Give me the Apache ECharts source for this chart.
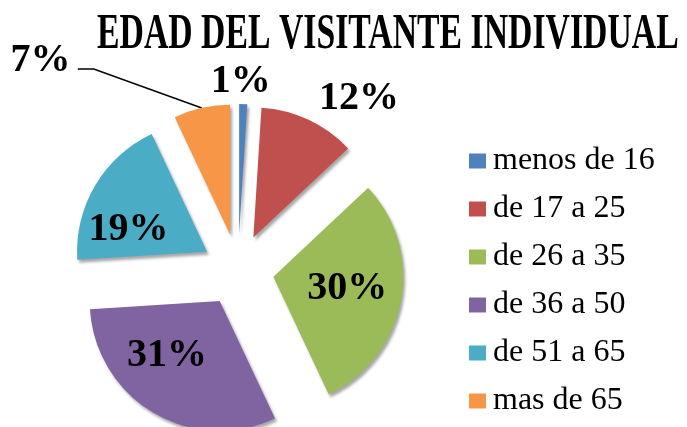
<!DOCTYPE html>
<html>
<head>
<meta charset="utf-8">
<script src="https://cdn.jsdelivr.net/npm/echarts@6/dist/echarts.min.js"></script>
<style>
  html, body { margin: 0; padding: 0; background: #fff; }
  #chart { width: 687px; height: 427px; }
</style>
</head>
<body>
<div id="chart"></div>
<script>
const categories = ['menos de 16', 'de 17 a 25', 'de 26 a 35', 'de 36 a 50', 'de 51 a 65', 'mas de 65'];
const values = [1, 12, 30, 31, 19, 7];
const colors = ['#4f81bd', '#c0504d', '#9bbb59', '#8064a2', '#4bacc6', '#f79646'];
const insideIdx = [2, 3, 4];
// nudges for the percentage labels, by slice
const labelNudge = [[-68, -7], [-31, -8], [7, -1], [-18, -4], [-20, 13], [-108, -38]];

const chart = echarts.init(document.getElementById('chart'));

const option = {
  animation: false,
  color: colors,
  graphic: [
    {
      type: 'text',
      x: 97,
      y: 10,
      scaleX: 0.675,
      style: {
        text: 'EDAD DEL VISITANTE INDIVIDUAL',
        font: 'bold 50px "Liberation Serif"',
        fill: '#000',
        textVerticalAlign: 'top',
      },
    },
  ],
  legend: {
    orient: 'vertical',
    left: 469,
    top: 145,
    height: 282,
    padding: 0,
    icon: 'rect',
    itemWidth: 17,
    itemHeight: 15,
    itemGap: 16,
    data: categories,
    textStyle: {
      fontFamily: 'Liberation Serif',
      fontSize: 32,
      lineHeight: 32,
      color: '#000',
      padding: [0, 0, 0, 2],
    },
  },
  series: [
    {
      type: 'pie',
      center: [238, 270],
      radius: [0, 130],
      startAngle: 90,
      clockwise: true,
      selectedMode: 'multiple',
      selectedOffset: 36,
      avoidLabelOverlap: false,
      itemStyle: {
        shadowColor: 'rgba(0,0,0,0.35)',
        shadowBlur: 3,
        shadowOffsetX: 2,
        shadowOffsetY: 3,
      },
      label: {
        fontFamily: 'Liberation Serif',
        fontWeight: 'bold',
        fontSize: 40,
        color: '#000',
      },
      labelLine: { show: false },
      labelLayout: function (p) {
        const n = labelNudge[p.dataIndex];
        const out = { dx: n[0], dy: n[1] };
        if (p.dataIndex === 5 && p.labelLinePoints) {
          // leader from the slice edge up-left to the "7%" label
          const s = p.labelLinePoints[0];
          out.labelLinePoints = [
            [s[0], s[1]],
            [s[0] - 108, s[1] - 39],
            [s[0] - 124, s[1] - 39],
          ];
        }
        return out;
      },
      data: categories.map(function (name, i) {
        const item = {
          name: name,
          value: values[i],
          selected: true,
          label: {
            position: insideIdx.indexOf(i) >= 0 ? 'inside' : 'outside',
            formatter: values[i] + '%',
          },
        };
        if (i === 5) {
          item.labelLine = {
            show: true,
            length: 10,
            length2: 16,
            lineStyle: { color: '#000', width: 1.5 },
          };
        }
        return item;
      }),
    },
  ],
};

chart.setOption(option);
window.addEventListener('resize', function () {
  chart.resize();
});
</script>
</body>
</html>
